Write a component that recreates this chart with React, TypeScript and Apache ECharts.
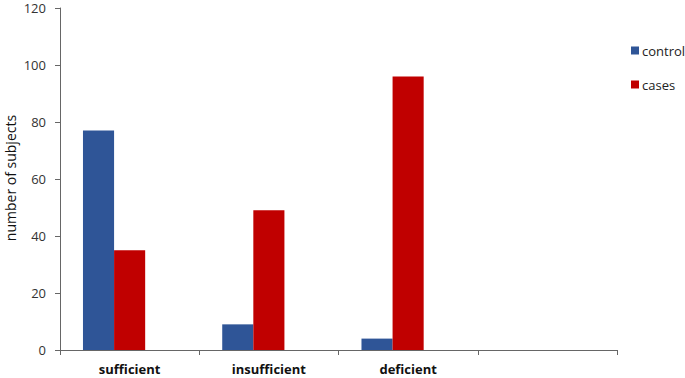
import React, { useEffect, useRef } from "react";
import * as echarts from "echarts";

const categories = ["sufficient", "insufficient", "deficient", ""];
const controlValues = [77, 9, 4, null];
const casesValues = [35, 49, 96, null];
const emptyValues = [null, null, null, null];
const yTicks = { min: 0, max: 120, interval: 20 };
const yAxisTitle = "number of subjects";

export default function App() {
  const ref = useRef<HTMLDivElement>(null);
  useEffect(() => {
    if (!ref.current) return;
    const chart = echarts.init(ref.current, undefined, { renderer: "svg" });
    const font = "'Open Sans', sans-serif";
    chart.setOption({
      animation: false,
      backgroundColor: "#ffffff",
      textStyle: { fontFamily: font },
      grid: {
        left: 60,
        right: 68,
        top: 8,
        bottom: 28,
        containLabel: false,
        outerBoundsMode: "none",
      },
      graphic: [
        {
          type: "text",
          x: 10,
          y: 178,
          rotation: Math.PI / 2,
          style: {
            text: yAxisTitle,
            fontSize: 14,
            fontFamily: font,
            fill: "#111",
            align: "center",
            verticalAlign: "middle",
          },
        },
      ],
      legend: {
        orient: "vertical",
        left: 626,
        top: 39,
        itemWidth: 8,
        itemHeight: 8,
        itemGap: 21,
        icon: "rect",
        data: ["control", "cases"],
        textStyle: { fontSize: 13, color: "#222", fontFamily: font, padding: [0, 0, 0, -2] },
      },
      xAxis: {
        type: "category",
        data: categories,
        boundaryGap: true,
        axisLine: { lineStyle: { color: "#666", width: 1 } },
        axisTick: { show: true, alignWithLabel: false, length: 5, lineStyle: { color: "#666" } },
        axisLabel: { fontSize: 13, fontWeight: "bold", color: "#111", margin: 12, fontFamily: font },
        splitLine: { show: false },
      },
      yAxis: {
        type: "value",
        min: yTicks.min,
        max: yTicks.max,
        interval: yTicks.interval,
        axisLine: { show: true, lineStyle: { color: "#666", width: 1 } },
        axisTick: { show: true, length: 5, lineStyle: { color: "#666" } },
        axisLabel: { fontSize: 13, lineHeight: 13, color: "#333", margin: 14, fontFamily: font },
        splitLine: { show: false },
      },
      series: [
        {
          name: "control",
          type: "bar",
          data: controlValues,
          barGap: "0%",
          barCategoryGap: "33%",
          itemStyle: { color: "#2f5597" },
        },
        {
          name: "cases",
          type: "bar",
          data: casesValues,
          barGap: "0%",
          barCategoryGap: "33%",
          itemStyle: { color: "#c00000" },
        },
        {
          name: "hidden",
          type: "bar",
          data: emptyValues,
          barGap: "0%",
          barCategoryGap: "33%",
          itemStyle: { color: "#999" },
        },
      ],
    });
    return () => chart.dispose();
  }, []);
  return (
    <div
      ref={ref}
      style={{ position: "fixed", left: 0, top: 0, width: 685, height: 378 }}
    />
  );
}
